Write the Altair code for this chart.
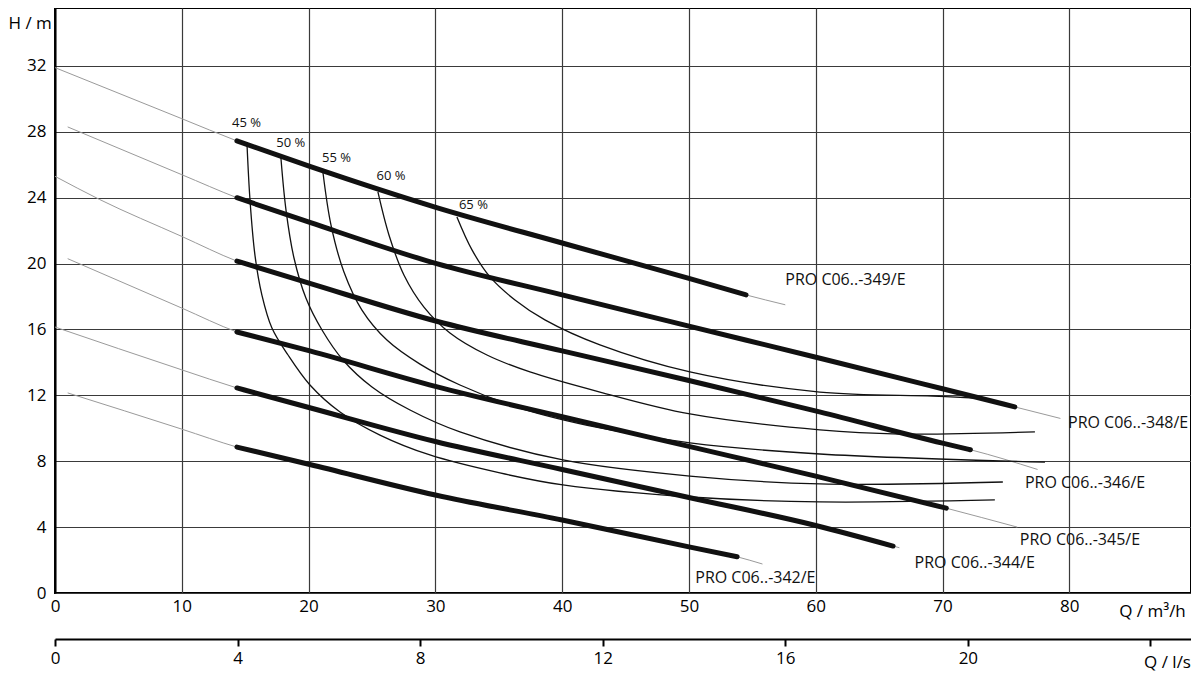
import altair as alt
import pandas as pd

# ---------------- data ----------------
pump_names = ["PRO C06..-349/E", "PRO C06..-348/E", "PRO C06..-346/E",
              "PRO C06..-345/E", "PRO C06..-344/E", "PRO C06..-342/E"]

q_349 = [0, 10, 14.35, 20.1, 30.1, 40, 50, 54.5, 57.6]
h_349 = [31.9, 28.8, 27.45, 25.9, 23.4, 21.25, 19.1, 18.1, 17.5]
q_348 = [1.0, 10, 14.35, 20.1, 30.1, 40, 50, 60.1, 70, 75.7, 79.3]
h_348 = [28.3, 25.4, 24.0, 22.5, 20.0, 18.1, 16.2, 14.3, 12.4, 11.3, 10.6]
q_346 = [0, 3.5, 10, 14.35, 20.1, 30.1, 40, 50, 60.3, 70, 72.2, 77.5]
h_346 = [25.3, 23.9, 21.65, 20.15, 18.8, 16.5, 14.7, 12.9, 11.0, 9.1, 8.7, 7.5]
q_345 = [1.0, 10, 14.35, 20.1, 30, 40, 50, 60, 70.3, 75.9]
h_345 = [20.3, 17.3, 15.85, 14.7, 12.55, 10.7, 8.9, 7.1, 5.15, 4.0]
q_344 = [0, 10, 14.35, 20.1, 30, 40, 50, 60, 66.1, 66.6]
h_344 = [16.15, 13.55, 12.45, 11.25, 9.2, 7.5, 5.8, 4.1, 2.85, 2.75]
q_342 = [1.0, 10, 14.35, 20.1, 30, 40, 50, 53.8, 55.8]
h_342 = [12.15, 9.95, 8.86, 7.8, 5.95, 4.43, 2.8, 2.2, 1.76]

thick_start = [14.35, 14.35, 14.35, 14.35, 14.35, 14.35]
thick_end = [54.5, 75.7, 72.2, 70.3, 66.1, 53.8]

pump_label_q = [57.6, 79.9, 76.5, 76.1, 67.8, 50.5]
pump_label_h = [19.0, 10.3, 6.7, 3.2, 1.8, 0.9]

eff_names = ["45 %", "50 %", "55 %", "60 %", "65 %"]
q_e45 = [15.14, 15.38, 15.77, 16.32, 17.11, 18.38, 20.11, 22.48, 25.63, 29.57, 35.09, 40.06, 50.08, 60.33, 74.13]
h_e45 = [27.32, 23.86, 20.52, 18.09, 16.09, 14.45, 12.63, 10.99, 9.59, 8.38, 7.29, 6.56, 5.83, 5.53, 5.65]
q_e50 = [17.82, 18.22, 18.85, 19.79, 21.06, 22.71, 25.00, 28.00, 31.94, 40.06, 50.08, 60.33, 74.76]
h_e50 = [26.41, 23.25, 20.34, 17.91, 15.97, 14.15, 12.51, 11.11, 9.78, 8.08, 7.10, 6.62, 6.74]
q_e55 = [21.14, 21.77, 22.79, 24.21, 26.18, 28.79, 31.94, 36.67, 42.98, 50.08, 60.33, 78.08]
h_e55 = [25.50, 22.34, 19.49, 17.18, 15.36, 13.90, 12.63, 11.23, 10.02, 9.11, 8.44, 7.95]
q_e60 = [25.47, 26.34, 27.52, 29.10, 31.15, 34.07, 37.46, 42.98, 50.08, 60.33, 66.64, 77.29]
h_e60 = [24.35, 21.74, 19.31, 17.36, 15.79, 14.45, 13.42, 12.20, 10.87, 9.90, 9.65, 9.78]
q_e65 = [31.70, 32.89, 34.31, 36.28, 38.64, 42.98, 50.08, 60.33, 69.24, 72.55]
h_e65 = [22.83, 20.83, 19.19, 17.79, 16.58, 15.06, 13.42, 12.20, 11.96, 11.84]

eff_label_q = [15.1, 18.6, 22.2, 26.5, 33.0]
eff_label_h = [28.55, 27.3, 26.4, 25.3, 23.55]

h_ticks = [0, 4, 8, 12, 16, 20, 24, 28, 32]
q_ticks = [0, 10, 20, 30, 40, 50, 60, 70, 80]
ls_ticks = [0, 4, 8, 12, 16, 20, 24]
q_max = 89.6
h_max = 35.52

# ---------------- tables ----------------
pump_q = [q_349, q_348, q_346, q_345, q_344, q_342]
pump_h = [h_349, h_348, h_346, h_345, h_344, h_342]
rows = []
for name, qs, hs, qa, qb in zip(pump_names, pump_q, pump_h, thick_start, thick_end):
    for i, (q, h) in enumerate(zip(qs, hs)):
        rows.append({"pump": name, "Q": q, "H": h, "idx": i,
                     "thick": (qa - 1e-6) <= q <= (qb + 1e-6)})
pumps = pd.DataFrame(rows)
thick_df = pumps[pumps["thick"]]

eff_q = [q_e45, q_e50, q_e55, q_e60, q_e65]
eff_h = [h_e45, h_e50, h_e55, h_e60, h_e65]
erows = []
for name, qs, hs in zip(eff_names, eff_q, eff_h):
    for i, (q, h) in enumerate(zip(qs, hs)):
        erows.append({"eff": name, "Q": q, "H": h, "idx": i})
effs = pd.DataFrame(erows)

eff_labels = pd.DataFrame({"eff": eff_names, "Q": eff_label_q, "H": eff_label_h})
pump_labels = pd.DataFrame({"pump": pump_names, "Q": pump_label_q, "H": pump_label_h})
ls_df = pd.DataFrame({"ls": ls_ticks})

FONT = "Open Sans"

xs = alt.Scale(domain=[0, q_max], nice=False, zero=False)
ys = alt.Scale(domain=[0, h_max], nice=False, zero=False)

x_axis = alt.Axis(values=q_ticks, grid=True, gridColor="#3a3a3a", gridWidth=1.2,
                  ticks=False, domain=False, labelPadding=5, labelFontSize=17,
                  labelColor="black", labelFont=FONT, labelFlush=False,
                  title="Q / m³/h", titleX=1097, titleY=18, titleAlign="center",
                  titleBaseline="middle", titleFontSize=17, titleFontWeight="normal",
                  titleFont=FONT, titleColor="black")
y_axis = alt.Axis(values=h_ticks, grid=True, gridColor="#3a3a3a", gridWidth=1.2,
                  ticks=False, domain=True, domainColor="black", domainWidth=2,
                  labelPadding=9, labelFontSize=17, labelColor="black", labelFont=FONT,
                  labelFlush=False, title="H / m", titleAngle=0, titleX=-47, titleY=15,
                  titleAlign="left", titleBaseline="middle", titleFontSize=17,
                  titleFontWeight="normal", titleFont=FONT, titleColor="black")

X = alt.X("Q:Q", scale=xs, axis=x_axis, title="Q / m³/h")
Y = alt.Y("H:Q", scale=ys, axis=y_axis, title="H / m")

thin = alt.Chart(pumps).mark_line(color="#9a9a9a", strokeWidth=1, interpolate="monotone").encode(
    x=X, y=Y, detail="pump:N", order="idx:Q",
)
thick = alt.Chart(thick_df).mark_line(color="#111111", strokeWidth=5, strokeCap="round",
                                      interpolate="monotone").encode(
    x=X, y=Y, detail="pump:N", order="idx:Q",
)
eff = alt.Chart(effs).mark_line(color="#111111", strokeWidth=1.3, interpolate="catmull-rom").encode(
    x=X, y=Y, detail="eff:N", order="idx:Q",
)
eff_text = alt.Chart(eff_labels).mark_text(font=FONT, fontSize=13, color="#111111",
                                           align="center", baseline="middle").encode(
    x=X, y=Y, text="eff:N",
)
pump_text = alt.Chart(pump_labels).mark_text(font=FONT, fontSize=16, color="#111111",
                                             align="left", baseline="middle").encode(
    x=X, y=Y, text="pump:N",
)

ls_axis = alt.Axis(orient="bottom", offset=46, values=ls_ticks, grid=False,
                   domainColor="black", domainWidth=2, tickColor="black", tickWidth=2,
                   tickSize=7, labelPadding=4, labelFontSize=17, labelColor="black",
                   labelFont=FONT, labelFlush=False,
                   labelExpr="datum.value == 24 ? '' : datum.label",
                   title="Q / l/s", titleX=1112, titleY=23, titleAlign="center",
                   titleBaseline="middle", titleFontSize=17, titleFontWeight="normal",
                   titleFont=FONT, titleColor="black")
secondary = alt.Chart(ls_df).mark_point(opacity=0).encode(
    x=alt.X("ls:Q", scale=alt.Scale(domain=[0, q_max / 3.6], nice=False, zero=False),
            axis=ls_axis, title="Q / l/s"),
    y=alt.Y("ls:Q", scale=ys, axis=y_axis, title="H / m"),
)

main = alt.layer(thin, thick, eff, eff_text, pump_text)

chart = alt.layer(main, secondary).resolve_scale(x="independent").properties(
    width=1136, height=585,
    autosize=alt.AutoSizeParams(type="none"),
    padding={"left": 47, "top": 0, "right": 0, "bottom": 80},
    background="white",
).configure_view(stroke="black", strokeWidth=2)

chart.save("out.html", embed_options={"renderer": "svg", "actions": False})
